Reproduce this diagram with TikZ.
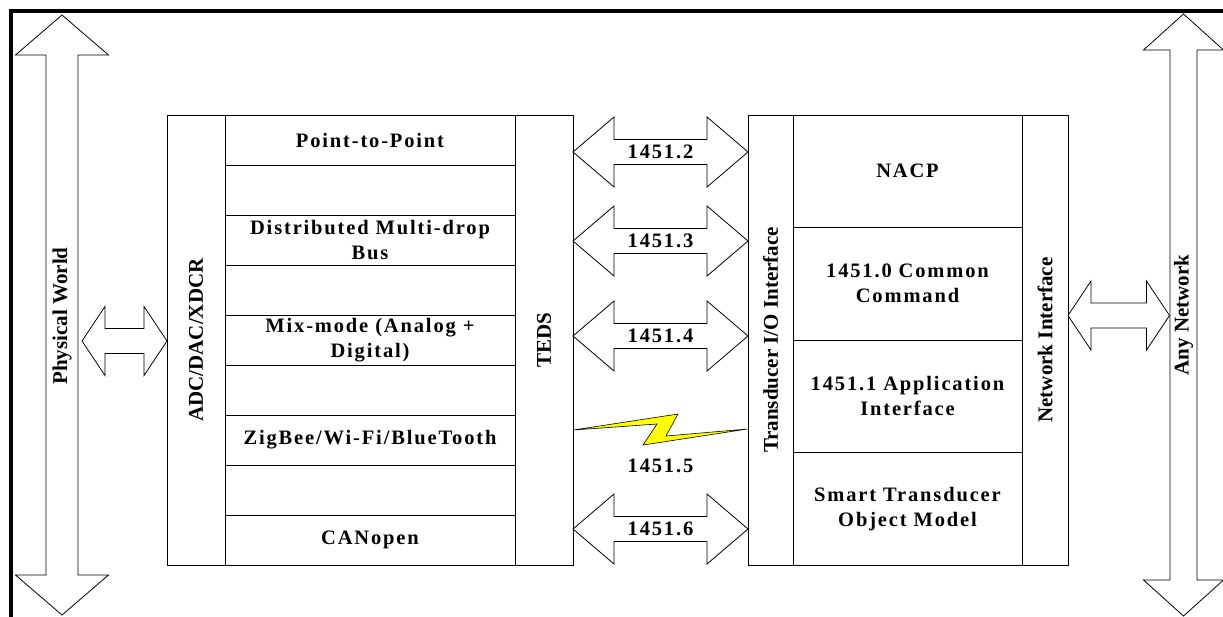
\documentclass[tikz,border=0pt]{standalone}
\usepackage{fontspec}
\setmainfont{Liberation Serif}
\newfontfamily\spacedfont[LetterSpace=9]{Liberation Serif}
\definecolor{boltyellow}{RGB}{255,255,0}
% horizontal double arrow: x1, x2, cy, head half-height, shaft half-height, head length
\newcommand\dblharrow[6]{%
  \draw[arrowshape] (#1,#3) -- (#1+#6,#3-#4) -- (#1+#6,#3-#5) -- (#2-#6,#3-#5) -- (#2-#6,#3-#4) -- (#2,#3)
    -- (#2-#6,#3+#4) -- (#2-#6,#3+#5) -- (#1+#6,#3+#5) -- (#1+#6,#3+#4) -- cycle;}
% vertical double arrow: y1, y2, cx, head half-width, shaft half-width, head length
\newcommand\dblvarrow[6]{%
  \draw[arrowshape] (#3,#1) -- (#3+#4,#1+#6) -- (#3+#5,#1+#6) -- (#3+#5,#2-#6) -- (#3+#4,#2-#6) -- (#3,#2)
    -- (#3-#4,#2-#6) -- (#3-#5,#2-#6) -- (#3-#5,#1+#6) -- (#3-#4,#1+#6) -- cycle;}
\tikzset{
  frameline/.style={line width=3.4pt, line cap=rect},
  arrowshape/.style={draw=black, line width=0.8pt, fill=white, line join=miter},
  cell/.style={draw=black, line width=0.8pt, inner sep=0pt, align=center,
    font=\spacedfont\bfseries\fontsize{20.5}{25}\selectfont},
  col/.style={draw=black, line width=0.8pt, inner sep=0pt, rotate=90,
    font=\bfseries\fontsize{21}{25}\selectfont},
  vlabel/.style={rotate=90, inner sep=0pt, font=\bfseries\fontsize{21}{25}\selectfont},
  numlabel/.style={inner sep=0pt, font=\spacedfont\bfseries\fontsize{20.5}{25}\selectfont},
  bolt/.style={draw=black, line width=0.6pt, fill=boltyellow, line join=miter}
}
\begin{document}
\begin{tikzpicture}[x=1pt, y=-1pt]
\useasboundingbox (0,0) rectangle (1223,616);
% frame
\draw[frameline] (11,620) -- (11,11) -- (1230,11);

% big vertical arrows
\dblvarrow{15}{615}{62}{46.5}{16}{40}
\node[vlabel] (pw) at (62,316) {Physical World};
\dblvarrow{14}{616}{1183.5}{40}{13.5}{36}
\node[vlabel] (an) at (1183.5,315) {Any Network};

% left block
\node[col, minimum width=450pt, minimum height=58pt] (adc) at (196,340) {ADC/DAC/XDCR};
\node[col, minimum width=450pt, minimum height=58pt] (teds) at (544,340) {TEDS};
\node[cell, minimum width=290pt, minimum height=50pt] (r1) at (370,140) {Point-to-Point};
\node[cell, minimum width=290pt, minimum height=50pt] (r2) at (370,190) {};
\node[cell, minimum width=290pt, minimum height=50pt] (r3) at (370,240) {Distributed Multi-drop\\Bus};
\node[cell, minimum width=290pt, minimum height=50pt] (r4) at (370,290) {};
\node[cell, minimum width=290pt, minimum height=50pt] (r5) at (370,340) {Mix-mode (Analog +\\Digital)};
\node[cell, minimum width=290pt, minimum height=50pt] (r6) at (370,390) {};
\node[cell, minimum width=290pt, minimum height=50pt] (r7) at (370,440) {ZigBee/Wi-Fi/BlueTooth};
\node[cell, minimum width=290pt, minimum height=50pt] (r8) at (370,490) {};
\node[cell, minimum width=290pt, minimum height=50pt] (r9) at (370,540) {CANopen};

% right block
\node[col, minimum width=450pt, minimum height=45pt] (tio) at (770.5,340) {Transducer I/O Interface};
\node[col, minimum width=450pt, minimum height=46pt] (ni) at (1045,340) {Network Interface};
\node[cell, minimum width=229pt, minimum height=112.5pt] (s1) at (907.5,171.25) {NACP};
\node[cell, minimum width=229pt, minimum height=112.5pt] (s2) at (907.5,283.75) {1451.0 Common\\Command};
\node[cell, minimum width=229pt, minimum height=112.5pt] (s3) at (907.5,396.25) {1451.1 Application\\Interface};
\node[cell, minimum width=229pt, minimum height=112.5pt] (s4) at (907.5,508.75) {Smart Transducer\\Object Model};

% small side arrows
\dblharrow{82}{167}{341}{34.5}{12.5}{23}
\dblharrow{1068}{1169.5}{315.5}{34.5}{12.5}{23}

% middle arrows
\dblharrow{573}{748}{152}{35}{12.5}{41}
\node[numlabel] (a2) at (660.5,152) {1451.2};
\dblharrow{573}{748}{241}{35}{12.5}{41}
\node[numlabel] (a3) at (660.5,241) {1451.3};
\dblharrow{573}{748}{336}{35}{12.5}{41}
\node[numlabel] (a4) at (660.5,336) {1451.4};
\dblharrow{573}{748}{529}{35}{12.5}{41}
\node[numlabel] (a6) at (660.5,529) {1451.6};

% wireless bolt
\coordinate (boltL) at (teds.south |- 0,430);
\coordinate (boltR) at (tio.north |- 0,429);
\draw[bolt] (boltL) -- (678,414) -- (666,436) -- (boltR) -- (643,445) -- (657,424) -- cycle;
\node[numlabel] (a5) at (660.5,466) {1451.5};
\end{tikzpicture}
\end{document}
